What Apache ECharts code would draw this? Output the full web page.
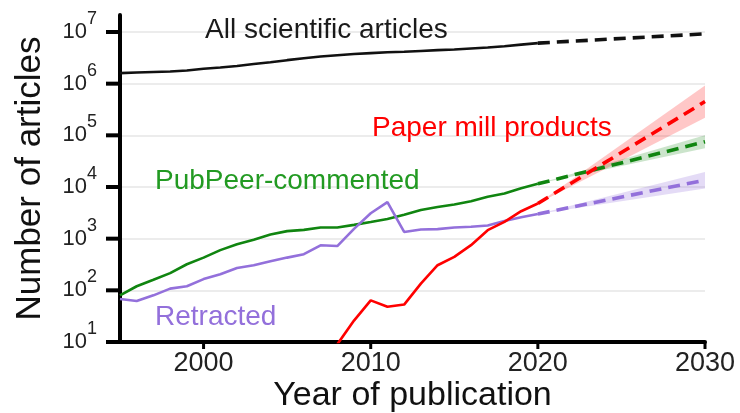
<!DOCTYPE html>
<html>
<head>
<meta charset="utf-8">
<script src="https://cdn.jsdelivr.net/npm/echarts@6/dist/echarts.min.js"></script>
<style>
  html, body { margin: 0; padding: 0; background: #fff; }
  #chart { width: 740px; height: 413px; }
</style>
</head>
<body>
<div id="chart"></div>
<script>
// years with observed counts
const years = [1995, 1996, 1997, 1998, 1999, 2000, 2001, 2002, 2003, 2004, 2005, 2006, 2007,
               2008, 2009, 2010, 2011, 2012, 2013, 2014, 2015, 2016, 2017, 2018, 2019, 2020]

const allArticles = [1.60e6, 1.64e6, 1.68e6, 1.72e6, 1.80e6, 1.95e6, 2.05e6, 2.2e6, 2.4e6, 2.6e6, 2.85e6, 3.1e6, 3.35e6,
                     3.55e6, 3.75e6, 3.9e6, 4.05e6, 4.15e6, 4.3e6, 4.45e6, 4.6e6, 4.8e6, 5.0e6, 5.3e6, 5.7e6, 6.1e6]
const pubpeer = [80, 120, 160, 215, 320, 430, 600, 780, 950, 1200, 1400, 1480, 1650,
                 1650, 1850, 2100, 2400, 2900, 3600, 4100, 4600, 5300, 6500, 7500, 9500, 11500]
const retracted = [68, 62, 80, 108, 120, 165, 205, 270, 305, 365, 430, 500, 745,
                   720, 1550, 3100, 5100, 1350, 1500, 1530, 1650, 1700, 1800, 2200, 2600, 3000]
const paperMill = [null, null, null, null, null, null, null, null, null, null, null, null, null,
                   9, 26, 64, 48, 53, 135, 306, 444, 748, 1460, 2120, 3400, 4800]

// projections 2020 -> 2030 with interval
const projYears = [2020, 2030]
const allProj = [6.1e6, 9.2e6]
const pubpeerProj = [11500, 75000]
const pubpeerLow = [11500, 56000]
const pubpeerHigh = [11500, 100000]
const retractedProj = [3000, 13600]
const retractedLow = [3000, 9400]
const retractedHigh = [3000, 19600]
const millProj = [4800, 450000]
const millLow = [4800, 220000]
const millHigh = [4800, 920000]

// tick values on the x axis
const xTicks = [2000, 2010, 2020, 2030]

const FONT = '"Liberation Sans", Arial, sans-serif'
const BLACK = '#111111'
const GREEN = '#108510'
const PURPLE = '#9370db'
const RED = '#ff0000'

function pairs(xs, ys) {
    return xs.map((x, i) => [x, ys[i]])
}

function solid(name, ys, color) {
    return {
        name: name, type: 'line', data: pairs(years, ys),
        showSymbol: false, symbol: 'none', z: 5,
        lineStyle: { color: color, width: 2.6 }
    }
}

function dashed(name, ys, color) {
    return {
        name: name, type: 'line', data: pairs(projYears, ys),
        showSymbol: false, symbol: 'none', z: 5,
        lineStyle: { color: color, width: 3.6, type: [12, 7] }
    }
}

// shaded interval around a projection, drawn as one polygon
function band(low, high, fill) {
    return {
        type: 'custom', silent: true, z: 2,
        data: projYears.map((x, i) => [x, low[i], high[i]]),
        encode: { x: 0, y: [1, 2] },
        renderItem: (params, api) => {
            if (params.dataIndex !== 0) return
            const top = projYears.map((x, i) => api.coord([x, high[i]]))
            const bottom = projYears.map((x, i) => api.coord([x, low[i]])).reverse()
            return { type: 'polygon', shape: { points: top.concat(bottom) }, style: { fill: fill } }
        }
    }
}

function label(text, x, y, color) {
    return {
        type: 'text', x: x, y: y, z: 100,
        style: { text: text, fill: color, fontSize: 28, fontFamily: FONT, verticalAlign: 'middle' }
    }
}

const chart = echarts.init(document.getElementById('chart'))

const option = {
    animation: false,
    backgroundColor: '#fff',
    textStyle: { fontFamily: FONT },
    grid: [
        { left: 120, right: 35, top: 32, bottom: 71, outerBoundsContain: 'axisLabel' },
        // only used to draw the taller left axis line and its title
        { left: 120, right: 35, top: 15, bottom: 71, outerBoundsContain: 'axisLabel' }
    ],
    xAxis: [
        {
            type: 'value', min: 1995, max: 2030,
            axisLine: { show: true, lineStyle: { color: '#000', width: 4 } },
            axisTick: { show: false },
            // tick mark is drawn as the first (empty) line of each label
            axisLabel: {
                customValues: xTicks, margin: 0,
                formatter: v => '{t|}\n{v|' + v + '}',
                rich: {
                    t: { width: 3, height: 7, backgroundColor: '#000', align: 'center' },
                    v: { fontSize: 27, lineHeight: 30, color: '#222', fontFamily: FONT, align: 'center' }
                }
            },
            splitLine: { show: false },
            name: 'Year of publication', nameLocation: 'middle', nameGap: 37, nameMoveOverlap: false,
            nameTextStyle: { fontSize: 34, color: '#111', fontFamily: FONT }
        },
        { gridIndex: 1, type: 'value', show: false, min: 0, max: 1 }
    ],
    yAxis: [
        {
            type: 'log', logBase: 10, min: 10, max: 1e7,
            axisLine: { show: true, lineStyle: { color: '#000', width: 4 } },
            axisTick: { show: false },
            // label = 10^n, a gap, then the tick mark
            axisLabel: {
                margin: 0,
                formatter: v => '{b|10}{s|' + Math.round(Math.log10(v)) + '}{g|}{t|}',
                rich: {
                    b: { fontSize: 22, color: '#222', fontFamily: FONT, lineHeight: 44 },
                    s: { fontSize: 18, color: '#222', fontFamily: FONT, verticalAlign: 'top', lineHeight: 18 },
                    g: { width: 9 },
                    t: { width: 14, height: 4, backgroundColor: '#000' }
                }
            },
            splitLine: { show: true, lineStyle: { color: '#e6e6e6', width: 1.5 } }
        },
        {
            gridIndex: 1, type: 'value', min: 0, max: 1,
            axisLine: { show: true, onZero: false, lineStyle: { color: '#000', width: 4 } },
            axisTick: { show: false }, axisLabel: { show: false }, splitLine: { show: false },
            name: 'Number of articles', nameLocation: 'middle', nameGap: 72,
            nameTextStyle: { fontSize: 35, color: '#111', fontFamily: FONT }
        }
    ],
    series: [
        band(pubpeerLow, pubpeerHigh, 'rgba(16,133,16,0.22)'),
        band(retractedLow, retractedHigh, 'rgba(147,112,219,0.25)'),
        band(millLow, millHigh, 'rgba(255,0,0,0.22)'),
        solid('All scientific articles', allArticles, BLACK),
        solid('PubPeer-commented', pubpeer, GREEN),
        solid('Retracted', retracted, PURPLE),
        solid('Paper mill products', paperMill, RED),
        dashed('All projection', allProj, BLACK),
        dashed('PubPeer projection', pubpeerProj, GREEN),
        dashed('Retracted projection', retractedProj, PURPLE),
        dashed('Paper mill projection', millProj, RED)
    ],
    graphic: [
        label('All scientific articles', 205, 30, '#1a1a1a'),
        label('Paper mill products', 372, 128, RED),
        label('PubPeer-commented', 155, 181, '#229a22'),
        label('Retracted', 155, 317, PURPLE)
    ]
}

chart.setOption(option)
</script>
</body>
</html>
